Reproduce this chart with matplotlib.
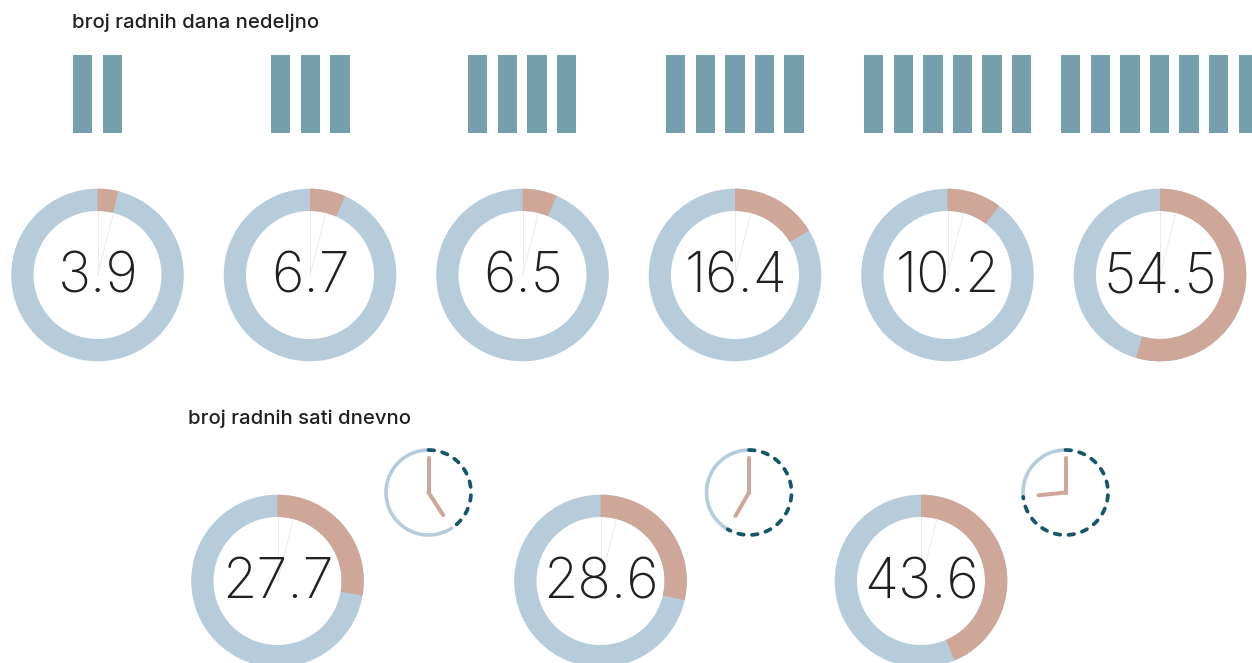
import numpy as np
import matplotlib
matplotlib.use("Agg")
import matplotlib.pyplot as plt
from matplotlib.patches import Wedge, Rectangle

# data
days = [2, 3, 4, 5, 6, 7]
day_values = [3.9, 6.7, 6.5, 16.4, 10.2, 54.5]
hours = [4.9, 7, 8.8]
hour_values = [27.7, 28.6, 43.6]
title_days = "broj radnih dana nedeljno"
title_hours = "broj radnih sati dnevno"

# style / layout
BLUE = "#b7ccda"; PINK = "#cfa799"; BAR = "#759fad"; DARK = "#16566a"; INK = "#231f20"
day_cx = [97.5, 310, 522.5, 735, 947.5, 1160]
hour_cx = [277.5, 600.5, 921]
clock_cx = [428.5, 749, 1065.5]
bar_x0 = [73, 271, 468, 666, 864, 1061]

fig = plt.figure(figsize=(12.52, 6.63), dpi=100)
ax = fig.add_axes([0, 0, 1, 1])
ax.set_xlim(0, 1252); ax.set_ylim(663, 0); ax.axis("off")


def donut(cx, cy, v):
    ax.add_patch(Wedge((cx, cy), 86.3, -90, 270, width=22.3, fc=BLUE, ec="none"))
    ax.add_patch(Wedge((cx, cy), 86.3, -90, -90 + 3.6 * v, width=22.3, fc=PINK, ec="none"))
    for a in (0, 14.5):
        t = np.radians(a)
        ax.plot([cx, cx + 64 * np.sin(t)], [cy, cy - 64 * np.cos(t)], color="#e8e8e8", lw=0.6, zorder=1)
    ax.text(cx + 0.5, cy + 17.5, f"{v}", ha="center", va="baseline", fontsize=40, color=INK,
            family="Inter", fontweight=200, zorder=3)


for x0, n in zip(bar_x0, days):
    for i in range(n):
        ax.add_patch(Rectangle((x0 + i * 29.6, 55), 19.4, 78, fc=BAR, ec="none"))
for cx, v in zip(day_cx, day_values):
    donut(cx, 275, v)
for cx, v in zip(hour_cx, hour_values):
    donut(cx, 581, v)

for cx, h in zip(clock_cx, hours):
    cy, r = 492.5, 42.5
    end = h * 30
    t = np.radians(np.linspace(end, 360, 200))
    ax.plot(cx + r * np.sin(t), cy - r * np.cos(t), color=BLUE, lw=2.6, solid_capstyle="round")
    t = np.radians(np.linspace(0, end, 200))
    ax.plot(cx + r * np.sin(t), cy - r * np.cos(t), color=DARK, lw=2.7,
            linestyle=(0, (1.5, 2.2)), dash_capstyle="round")
    a = np.radians(end)
    ax.plot([cx, cx], [cy, cy - 35], color=PINK, lw=2.9, solid_capstyle="round")
    ax.plot([cx, cx + 27 * np.sin(a)], [cy, cy - 27 * np.cos(a)], color=PINK, lw=2.9, solid_capstyle="round")

ax.text(72, 28.5, title_days, fontsize=14.6, color=INK, family="Inter", fontweight=500, va="baseline")
ax.text(188, 424.5, title_hours, fontsize=14.6, color=INK, family="Inter", fontweight=500, va="baseline")

fig.savefig("out.png", dpi=100)
